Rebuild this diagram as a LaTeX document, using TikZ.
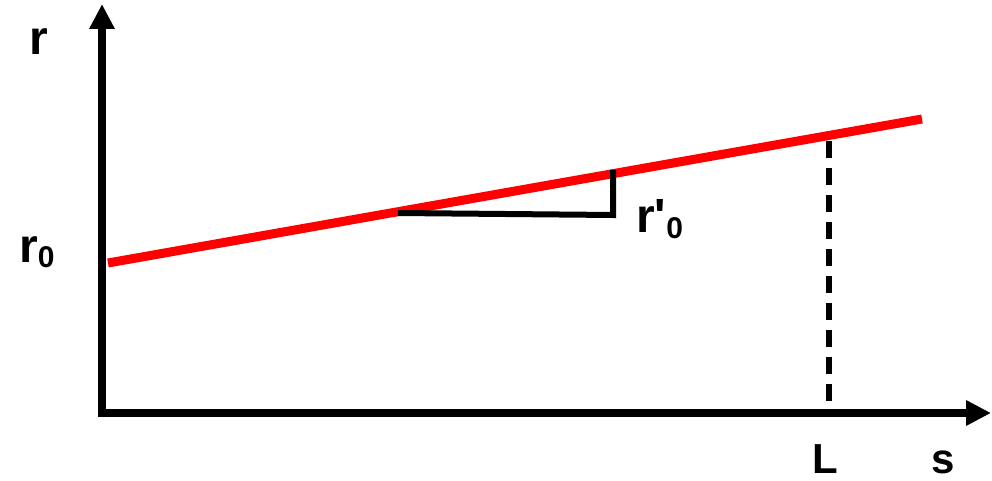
\documentclass[tikz,border=0pt]{standalone}
\usepackage{fontspec}
\setmainfont{Liberation Sans}
\usetikzlibrary{arrows.meta}
\begin{document}
\begin{tikzpicture}[x=1pt,y=-1pt,
  axis/.style={line width=8.5pt,-{Triangle[length=25pt,width=24pt]}},
  big/.style={font=\bfseries\fontsize{48}{52}\selectfont,inner sep=0pt},
  mid/.style={font=\bfseries\fontsize{42}{46}\selectfont,inner sep=0pt}]
\useasboundingbox (0,0) rectangle (992,481);
\coordinate (o) at (102,413);
\coordinate (ytip) at (102,4);
\coordinate (xtip) at (991,413);
\coordinate (ostart) at (102,417);
\coordinate (xstart) at (98,413);
\draw[axis] (ostart) -- (ytip);
\draw[axis] (xstart) -- (xtip);
\coordinate (ra) at (108,263);
\coordinate (rb) at (922,119);
\draw[red,line width=9pt] (ra) -- (rb);
\coordinate (t1) at (398,213);
\coordinate (t2) at (613,215);
\coordinate (t3) at (613,170);
\draw[line width=6pt] (t1) -- (t2) -- (t3);
\coordinate (d1) at (829,141);
\coordinate (d2) at (829,410);
\draw[line width=5.5pt,dash pattern=on 17pt off 10pt] (d1) -- (d2);
\node[big,anchor=base west] (rlab) at (29,55) {r};
\node[big,anchor=base west] (r0lab) at (19,262) {r\raisebox{-5pt}{\fontsize{30}{32}\selectfont 0}};
\node[big,anchor=base west] (rplab) at (636,232) {r\textquotesingle\raisebox{-6pt}{\fontsize{30}{32}\selectfont 0}};
\node[mid,anchor=base west] (Llab) at (812,473) {L};
\node[mid,anchor=base west] (slab) at (931,473) {s};
\end{tikzpicture}
\end{document}
